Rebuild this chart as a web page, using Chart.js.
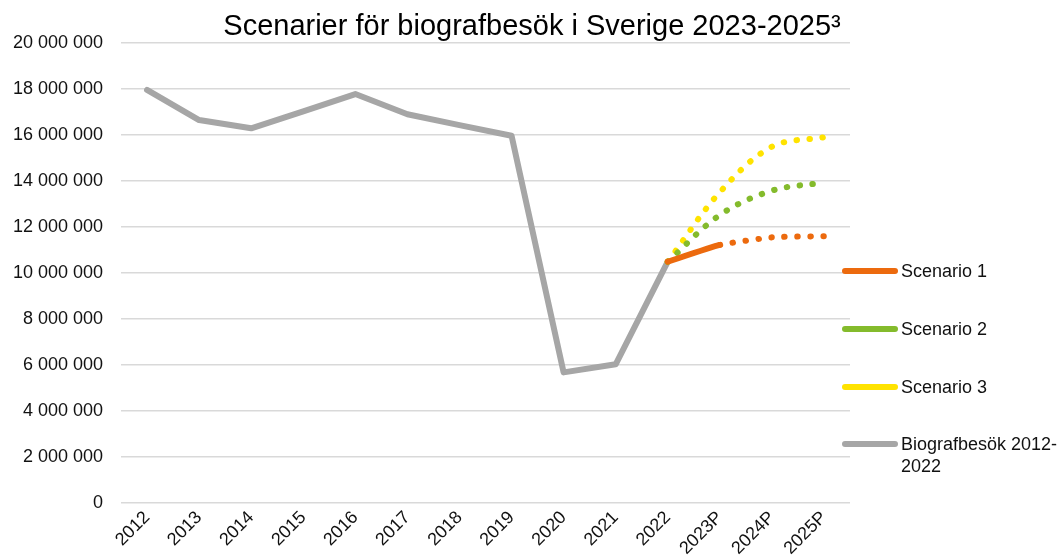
<!DOCTYPE html>
<html>
<head>
<meta charset="utf-8">
<script src="https://cdn.jsdelivr.net/npm/chart.js@4.4.1/dist/chart.umd.min.js"></script>
<style>
html,body{margin:0;padding:0;background:#fff;}
#wrap{position:relative;width:1064px;height:559px;overflow:hidden;}
canvas{display:block;}
#legend{position:absolute;left:0;top:0;width:1064px;height:559px;pointer-events:none;font-family:"Liberation Sans",Arial,sans-serif;font-size:18px;color:#111;}
.item{position:absolute;left:842px;}
.swatch{position:absolute;left:0;top:-3px;width:56px;height:6px;border-radius:3px;}
.txt{position:absolute;left:59px;top:-11px;line-height:22px;white-space:pre;}
</style>
</head>
<body>
<div id="wrap">
<canvas id="c" width="1064" height="559"></canvas>
<div id="legend"></div>
</div>
<script>
// ---- data ----
const titleText = "Scenarier för biografbesök i Sverige 2023-2025\u00B3";
const categories = ["2012","2013","2014","2015","2016","2017","2018","2019","2020","2021","2022","2023P","2024P","2025P"];
const historicLabel = "Biografbesök 2012-2022";
const historic = [17960000,16650000,16290000,17030000,17780000,16900000,16430000,15970000,5680000,6030000,10490000,null,null,null];
const scenario1 = [null,null,null,null,null,null,null,null,null,null,10490000,11220000,11550000,11600000];
const scenario2 = [null,null,null,null,null,null,null,null,null,null,10490000,12520000,13580000,13930000];
const scenario3 = [null,null,null,null,null,null,null,null,null,null,10490000,13510000,15490000,15900000];
const seriesNames = ["Scenario 1","Scenario 2","Scenario 3",historicLabel];
const yMin = 0, yMax = 20000000, yStep = 2000000;

// ---- styles ----
const colors = ["#EC6A0E","#84BB2C","#FFE300","#A6A6A6"];
const dots = [0.5, 12.5];
const FONT = '"Liberation Sans", Arial, sans-serif';

function fmt(v){ return String(Math.round(v)).replace(/\B(?=(\d{3})+(?!\d))/g, " "); }

const datasets = [
  { label: seriesNames[0], data: scenario1, borderColor: colors[0], order: 0, tension: 0.15,
    segment: { borderDash: ctx => ctx.p0DataIndex >= 11 ? dots : [] } },
  { label: seriesNames[1], data: scenario2, borderColor: colors[1], order: 1, tension: 0.35, borderDash: dots },
  { label: seriesNames[2], data: scenario3, borderColor: colors[2], order: 2, tension: 0.35, borderDash: dots },
  { label: seriesNames[3], data: historic, borderColor: colors[3], order: 3, tension: 0 }
].map(d => Object.assign({
  borderWidth: 6, pointRadius: 0, pointHoverRadius: 0, fill: false,
  borderCapStyle: 'round', borderJoinStyle: 'round', spanGaps: false
}, d));

new Chart(document.getElementById('c'), {
  type: 'line',
  data: { labels: categories, datasets: datasets },
  options: {
    responsive: false, animation: false, devicePixelRatio: 1,
    layout: { padding: 0 },
    plugins: {
      legend: { display: false },
      tooltip: { enabled: false },
      title: {
        display: true, text: titleText, color: '#000',
        font: { family: FONT, size: 29, weight: 'normal', lineHeight: 1 },
        padding: { top: 12, bottom: 2 }
      }
    },
    scales: {
      x: {
        offset: true,
        grid: { display: false, drawTicks: false },
        border: { display: false },
        ticks: { color: '#111', font: { family: FONT, size: 18 }, minRotation: 45, maxRotation: 45, autoSkip: false, padding: 4 },
        afterFit: s => { s.height = 56; }
      },
      y: {
        min: yMin, max: yMax,
        grid: { color: '#D9D9D9', lineWidth: 1.5, drawTicks: false },
        border: { display: false },
        ticks: { stepSize: yStep, color: '#111', font: { family: FONT, size: 18 }, padding: 18, callback: v => fmt(v) },
        afterFit: s => { s.width = 121; }
      },
      yRightSpace: {
        position: 'right', display: true, min: yMin, max: yMax,
        grid: { display: false, drawTicks: false },
        border: { display: false },
        ticks: { display: false },
        afterFit: s => { s.width = 214; }
      }
    }
  }
});

// ---- legend (HTML text) ----
const legendY = [271, 329, 387, 444];
const lg = document.getElementById('legend');
seriesNames.forEach((name, i) => {
  const it = document.createElement('div');
  it.className = 'item';
  it.style.top = legendY[i] + 'px';
  const sw = document.createElement('div');
  sw.className = 'swatch';
  sw.style.background = colors[i];
  const tx = document.createElement('div');
  tx.className = 'txt';
  tx.textContent = name.replace(/-(?=\d{4}$)/, '-\n');
  it.appendChild(sw); it.appendChild(tx);
  lg.appendChild(it);
});
</script>
</body>
</html>
